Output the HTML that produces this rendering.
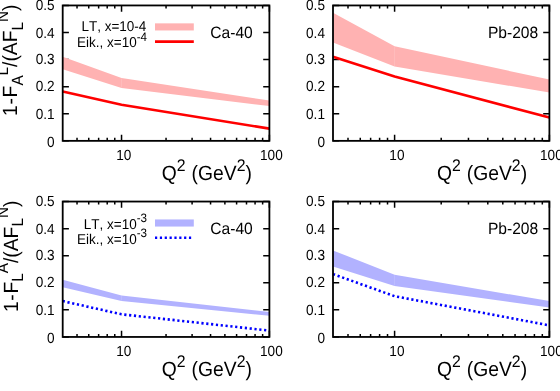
<!DOCTYPE html><html><head><meta charset="utf-8"><style>html,body{margin:0;padding:0;background:#fff;overflow:hidden}svg{display:block;will-change:transform}text{font-family:"Liberation Sans",sans-serif;fill:#000;text-rendering:geometricPrecision;font-kerning:none;white-space:pre;mix-blend-mode:multiply}</style></head><body>
<svg width="560" height="391" viewBox="0 0 560 391">
<rect width="560" height="391" fill="#fff"/>
<path d="M62.70 140.85h6.2M269.40 140.85h-6.2M62.70 113.77h6.2M269.40 113.77h-6.2M62.70 86.69h6.2M269.40 86.69h-6.2M62.70 59.61h6.2M269.40 59.61h-6.2M62.70 32.53h6.2M269.40 32.53h-6.2M62.70 5.45h6.2M269.40 5.45h-6.2M77.03 140.85v-3.0M77.03 5.45v3.0M88.74 140.85v-3.0M88.74 5.45v3.0M98.64 140.85v-3.0M98.64 5.45v3.0M107.21 140.85v-3.0M107.21 5.45v3.0M114.77 140.85v-3.0M114.77 5.45v3.0M121.54 140.85v-6.2M121.54 5.45v6.2M166.05 140.85v-3.0M166.05 5.45v3.0M192.09 140.85v-3.0M192.09 5.45v3.0M210.56 140.85v-3.0M210.56 5.45v3.0M224.89 140.85v-3.0M224.89 5.45v3.0M236.60 140.85v-3.0M236.60 5.45v3.0M246.50 140.85v-3.0M246.50 5.45v3.0M255.07 140.85v-3.0M255.07 5.45v3.0M262.63 140.85v-3.0M262.63 5.45v3.0M269.40 140.85v-6.2M269.40 5.45v6.2" stroke="#000" stroke-width="1.5" fill="none"/>
<path d="M62.70 336.95h6.2M269.40 336.95h-6.2M62.70 309.87h6.2M269.40 309.87h-6.2M62.70 282.79h6.2M269.40 282.79h-6.2M62.70 255.71h6.2M269.40 255.71h-6.2M62.70 228.63h6.2M269.40 228.63h-6.2M62.70 201.55h6.2M269.40 201.55h-6.2M77.03 336.95v-3.0M77.03 201.55v3.0M88.74 336.95v-3.0M88.74 201.55v3.0M98.64 336.95v-3.0M98.64 201.55v3.0M107.21 336.95v-3.0M107.21 201.55v3.0M114.77 336.95v-3.0M114.77 201.55v3.0M121.54 336.95v-6.2M121.54 201.55v6.2M166.05 336.95v-3.0M166.05 201.55v3.0M192.09 336.95v-3.0M192.09 201.55v3.0M210.56 336.95v-3.0M210.56 201.55v3.0M224.89 336.95v-3.0M224.89 201.55v3.0M236.60 336.95v-3.0M236.60 201.55v3.0M246.50 336.95v-3.0M246.50 201.55v3.0M255.07 336.95v-3.0M255.07 201.55v3.0M262.63 336.95v-3.0M262.63 201.55v3.0M269.40 336.95v-6.2M269.40 201.55v6.2" stroke="#000" stroke-width="1.5" fill="none"/>
<path d="M333.00 140.85h6.2M549.40 140.85h-6.2M333.00 113.77h6.2M549.40 113.77h-6.2M333.00 86.69h6.2M549.40 86.69h-6.2M333.00 59.61h6.2M549.40 59.61h-6.2M333.00 32.53h6.2M549.40 32.53h-6.2M333.00 5.45h6.2M549.40 5.45h-6.2M348.00 140.85v-3.0M348.00 5.45v3.0M360.26 140.85v-3.0M360.26 5.45v3.0M370.62 140.85v-3.0M370.62 5.45v3.0M379.60 140.85v-3.0M379.60 5.45v3.0M387.52 140.85v-3.0M387.52 5.45v3.0M394.60 140.85v-6.2M394.60 5.45v6.2M441.20 140.85v-3.0M441.20 5.45v3.0M468.46 140.85v-3.0M468.46 5.45v3.0M487.80 140.85v-3.0M487.80 5.45v3.0M502.80 140.85v-3.0M502.80 5.45v3.0M515.06 140.85v-3.0M515.06 5.45v3.0M525.42 140.85v-3.0M525.42 5.45v3.0M534.40 140.85v-3.0M534.40 5.45v3.0M542.32 140.85v-3.0M542.32 5.45v3.0M549.40 140.85v-6.2M549.40 5.45v6.2" stroke="#000" stroke-width="1.5" fill="none"/>
<path d="M333.00 336.95h6.2M549.40 336.95h-6.2M333.00 309.87h6.2M549.40 309.87h-6.2M333.00 282.79h6.2M549.40 282.79h-6.2M333.00 255.71h6.2M549.40 255.71h-6.2M333.00 228.63h6.2M549.40 228.63h-6.2M333.00 201.55h6.2M549.40 201.55h-6.2M348.00 336.95v-3.0M348.00 201.55v3.0M360.26 336.95v-3.0M360.26 201.55v3.0M370.62 336.95v-3.0M370.62 201.55v3.0M379.60 336.95v-3.0M379.60 201.55v3.0M387.52 336.95v-3.0M387.52 201.55v3.0M394.60 336.95v-6.2M394.60 201.55v6.2M441.20 336.95v-3.0M441.20 201.55v3.0M468.46 336.95v-3.0M468.46 201.55v3.0M487.80 336.95v-3.0M487.80 201.55v3.0M502.80 336.95v-3.0M502.80 201.55v3.0M515.06 336.95v-3.0M515.06 201.55v3.0M525.42 336.95v-3.0M525.42 201.55v3.0M534.40 336.95v-3.0M534.40 201.55v3.0M542.32 336.95v-3.0M542.32 201.55v3.0M549.40 336.95v-6.2M549.40 201.55v6.2" stroke="#000" stroke-width="1.5" fill="none"/>
<polygon points="62.70,56.80 121.54,78.10 269.40,100.60 269.40,106.10 121.54,87.90 62.70,69.30" fill="#ffb2b2"/>
<line x1="121.54" x2="121.54" y1="78.60" y2="87.40" stroke="#fff" stroke-opacity="0.15" stroke-width="1"/>
<polyline points="62.70,91.60 121.54,104.80 269.40,128.60" fill="none" stroke="#ff0000" stroke-width="2.6"/>
<polygon points="333.00,12.80 394.60,46.20 549.40,79.60 549.40,92.50 394.60,66.60 333.00,42.50" fill="#ffb2b2"/>
<line x1="394.60" x2="394.60" y1="46.70" y2="66.10" stroke="#fff" stroke-opacity="0.15" stroke-width="1"/>
<polyline points="333.00,56.85 394.60,76.40 549.40,117.60" fill="none" stroke="#ff0000" stroke-width="2.6"/>
<polygon points="62.70,279.80 121.54,295.60 269.40,312.00 269.40,315.80 121.54,301.10 62.70,287.20" fill="#b2b2ff"/>
<line x1="121.54" x2="121.54" y1="296.10" y2="300.60" stroke="#fff" stroke-opacity="0.15" stroke-width="1"/>
<polyline points="62.70,301.10 121.54,314.30 269.40,330.60" fill="none" stroke="#0000ff" stroke-width="2.6" stroke-dasharray="2.2 2.65"/>
<polygon points="333.00,250.40 394.60,274.80 549.40,301.10 549.40,307.50 394.60,286.10 333.00,266.50" fill="#b2b2ff"/>
<line x1="394.60" x2="394.60" y1="275.30" y2="285.60" stroke="#fff" stroke-opacity="0.15" stroke-width="1"/>
<polyline points="333.00,274.10 394.60,296.20 549.40,325.40" fill="none" stroke="#0000ff" stroke-width="2.6" stroke-dasharray="2.2 2.65"/>
<text transform="translate(81.39,30.65) scale(1,1.05)" x="0.00" y="0" font-size="13.50">LT, x=10-4</text>
<text transform="translate(77.02,47.45) scale(1,1.05)" x="0.00" y="0" font-size="13.50">Eik., x=10</text>
<text transform="translate(136.68,40.70) scale(1,1.05)" x="0.00" y="0" font-size="11.61">-4</text>
<rect x="155" y="23.35" width="38.8" height="7.1" fill="#ffb2b2"/>
<line x1="155" x2="193.8" y1="41.65" y2="41.65" stroke="#ff0000" stroke-width="2.6"/>
<text transform="translate(210.30,37.55) scale(1,1.05)" x="0.00" y="0" font-size="15.60">Ca-40</text>
<text transform="translate(487.90,37.55) scale(1,1.05)" x="0.00" y="0" font-size="15.60">Pb-208</text>
<text transform="translate(83.77,228.95) scale(1,1.05)" x="0.00" y="0" font-size="13.50">LT, x=10</text>
<text transform="translate(136.68,222.20) scale(1,1.05)" x="0.00" y="0" font-size="11.61">-3</text>
<text transform="translate(77.02,243.55) scale(1,1.05)" x="0.00" y="0" font-size="13.50">Eik., x=10</text>
<text transform="translate(136.68,236.80) scale(1,1.05)" x="0.00" y="0" font-size="11.61">-3</text>
<rect x="155" y="219.45" width="38.8" height="7.1" fill="#b2b2ff"/>
<line x1="155" x2="193.8" y1="237.75" y2="237.75" stroke="#0000ff" stroke-width="2.6" stroke-dasharray="2.2 2.65"/>
<text transform="translate(210.30,233.65) scale(1,1.05)" x="0.00" y="0" font-size="15.60">Ca-40</text>
<text transform="translate(487.90,233.65) scale(1,1.05)" x="0.00" y="0" font-size="15.60">Pb-208</text>
<rect x="62.7" y="5.45" width="206.70" height="135.40" fill="none" stroke="#000" stroke-width="1.8"/>
<text transform="translate(54.65,146.90) scale(1,1.08)" x="-7.56" y="0" font-size="13.60">0</text>
<text transform="translate(54.65,118.50) scale(1,1.08)" x="-18.91" y="0" font-size="13.60">0.1</text>
<text transform="translate(54.65,91.30) scale(1,1.08)" x="-18.91" y="0" font-size="13.60">0.2</text>
<text transform="translate(54.65,64.35) scale(1,1.08)" x="-18.91" y="0" font-size="13.60">0.3</text>
<text transform="translate(54.65,37.69) scale(1,1.08)" x="-18.91" y="0" font-size="13.60">0.4</text>
<text transform="translate(54.65,9.68) scale(1,1.08)" x="-18.91" y="0" font-size="13.60">0.5</text>
<text transform="translate(123.84,159.50) scale(1,1.08)" x="-7.56" y="0" font-size="13.60">10</text>
<text transform="translate(271.40,159.50) scale(1,1.08)" x="-11.35" y="0" font-size="13.60">100</text>
<rect x="62.7" y="201.55" width="206.70" height="135.40" fill="none" stroke="#000" stroke-width="1.8"/>
<text transform="translate(54.65,343.00) scale(1,1.08)" x="-7.56" y="0" font-size="13.60">0</text>
<text transform="translate(54.65,314.60) scale(1,1.08)" x="-18.91" y="0" font-size="13.60">0.1</text>
<text transform="translate(54.65,287.40) scale(1,1.08)" x="-18.91" y="0" font-size="13.60">0.2</text>
<text transform="translate(54.65,260.45) scale(1,1.08)" x="-18.91" y="0" font-size="13.60">0.3</text>
<text transform="translate(54.65,233.79) scale(1,1.08)" x="-18.91" y="0" font-size="13.60">0.4</text>
<text transform="translate(54.65,205.78) scale(1,1.08)" x="-18.91" y="0" font-size="13.60">0.5</text>
<text transform="translate(123.84,355.60) scale(1,1.08)" x="-7.56" y="0" font-size="13.60">10</text>
<text transform="translate(271.40,355.60) scale(1,1.08)" x="-11.35" y="0" font-size="13.60">100</text>
<rect x="333.0" y="5.45" width="216.40" height="135.40" fill="none" stroke="#000" stroke-width="1.8"/>
<text transform="translate(324.95,146.90) scale(1,1.08)" x="-7.56" y="0" font-size="13.60">0</text>
<text transform="translate(324.95,118.50) scale(1,1.08)" x="-18.91" y="0" font-size="13.60">0.1</text>
<text transform="translate(324.95,91.30) scale(1,1.08)" x="-18.91" y="0" font-size="13.60">0.2</text>
<text transform="translate(324.95,64.35) scale(1,1.08)" x="-18.91" y="0" font-size="13.60">0.3</text>
<text transform="translate(324.95,37.69) scale(1,1.08)" x="-18.91" y="0" font-size="13.60">0.4</text>
<text transform="translate(324.95,9.68) scale(1,1.08)" x="-18.91" y="0" font-size="13.60">0.5</text>
<text transform="translate(396.90,159.50) scale(1,1.08)" x="-7.56" y="0" font-size="13.60">10</text>
<text transform="translate(551.40,159.50) scale(1,1.08)" x="-11.35" y="0" font-size="13.60">100</text>
<rect x="333.0" y="201.55" width="216.40" height="135.40" fill="none" stroke="#000" stroke-width="1.8"/>
<text transform="translate(324.95,343.00) scale(1,1.08)" x="-7.56" y="0" font-size="13.60">0</text>
<text transform="translate(324.95,314.60) scale(1,1.08)" x="-18.91" y="0" font-size="13.60">0.1</text>
<text transform="translate(324.95,287.40) scale(1,1.08)" x="-18.91" y="0" font-size="13.60">0.2</text>
<text transform="translate(324.95,260.45) scale(1,1.08)" x="-18.91" y="0" font-size="13.60">0.3</text>
<text transform="translate(324.95,233.79) scale(1,1.08)" x="-18.91" y="0" font-size="13.60">0.4</text>
<text transform="translate(324.95,205.78) scale(1,1.08)" x="-18.91" y="0" font-size="13.60">0.5</text>
<text transform="translate(396.90,355.60) scale(1,1.08)" x="-7.56" y="0" font-size="13.60">10</text>
<text transform="translate(551.40,355.60) scale(1,1.08)" x="-11.35" y="0" font-size="13.60">100</text>
<text transform="translate(161.70,180.15) scale(1,1.065)" x="0.00" y="0" font-size="19.30">Q</text>
<text transform="translate(176.71,170.94) scale(1,1.065)" x="0.00" y="0" font-size="15.83">2</text>
<text transform="translate(186.26,180.15) scale(1,1.065)" x="0.00" y="0" font-size="19.30"> (GeV</text>
<text transform="translate(236.67,170.94) scale(1,1.065)" x="0.00" y="0" font-size="15.83">2</text>
<text transform="translate(245.47,180.15) scale(1,1.065)" x="0.00" y="0" font-size="19.30">)</text>
<text transform="translate(436.90,180.15) scale(1,1.065)" x="0.00" y="0" font-size="19.30">Q</text>
<text transform="translate(451.91,170.94) scale(1,1.065)" x="0.00" y="0" font-size="15.83">2</text>
<text transform="translate(461.46,180.15) scale(1,1.065)" x="0.00" y="0" font-size="19.30"> (GeV</text>
<text transform="translate(511.87,170.94) scale(1,1.065)" x="0.00" y="0" font-size="15.83">2</text>
<text transform="translate(520.67,180.15) scale(1,1.065)" x="0.00" y="0" font-size="19.30">)</text>
<text transform="translate(161.70,376.25) scale(1,1.065)" x="0.00" y="0" font-size="19.30">Q</text>
<text transform="translate(176.71,367.04) scale(1,1.065)" x="0.00" y="0" font-size="15.83">2</text>
<text transform="translate(186.26,376.25) scale(1,1.065)" x="0.00" y="0" font-size="19.30"> (GeV</text>
<text transform="translate(236.67,367.04) scale(1,1.065)" x="0.00" y="0" font-size="15.83">2</text>
<text transform="translate(245.47,376.25) scale(1,1.065)" x="0.00" y="0" font-size="19.30">)</text>
<text transform="translate(436.90,376.25) scale(1,1.065)" x="0.00" y="0" font-size="19.30">Q</text>
<text transform="translate(451.91,367.04) scale(1,1.065)" x="0.00" y="0" font-size="15.83">2</text>
<text transform="translate(461.46,376.25) scale(1,1.065)" x="0.00" y="0" font-size="19.30"> (GeV</text>
<text transform="translate(511.87,367.04) scale(1,1.065)" x="0.00" y="0" font-size="15.83">2</text>
<text transform="translate(520.67,376.25) scale(1,1.065)" x="0.00" y="0" font-size="19.30">)</text>
<text transform="translate(17.40,115.95) rotate(-90) scale(1,1.065)" x="0.00" y="0" font-size="19.30">1</text>
<text transform="translate(17.40,104.57) rotate(-90) scale(1,1.065)" x="0.00" y="0" font-size="19.30">-</text>
<text transform="translate(17.40,97.39) rotate(-90) scale(1,1.065)" x="0.00" y="0" font-size="19.30">F</text>
<text transform="translate(23.00,85.60) rotate(-90) scale(1,1.065)" x="0.00" y="0" font-size="15.25">A</text>
<text transform="translate(7.75,75.43) rotate(-90) scale(1,1.065)" x="0.00" y="0" font-size="15.25">L</text>
<text transform="translate(17.40,66.95) rotate(-90) scale(1,1.065)" x="0.00" y="0" font-size="19.30">/(AF</text>
<text transform="translate(23.00,30.50) rotate(-90) scale(1,1.065)" x="0.00" y="0" font-size="15.25">L</text>
<text transform="translate(7.75,22.02) rotate(-90) scale(1,1.065)" x="0.00" y="0" font-size="15.25">N</text>
<text transform="translate(17.40,11.01) rotate(-90) scale(1,1.065)" x="0.00" y="0" font-size="19.30">)</text>
<text transform="translate(17.70,312.05) rotate(-90) scale(1,1.065)" x="0.00" y="0" font-size="19.30">1</text>
<text transform="translate(17.70,300.67) rotate(-90) scale(1,1.065)" x="0.00" y="0" font-size="19.30">-</text>
<text transform="translate(17.70,293.49) rotate(-90) scale(1,1.065)" x="0.00" y="0" font-size="19.30">F</text>
<text transform="translate(23.30,281.70) rotate(-90) scale(1,1.065)" x="0.00" y="0" font-size="15.25">L</text>
<text transform="translate(8.05,273.22) rotate(-90) scale(1,1.065)" x="0.00" y="0" font-size="15.25">A</text>
<text transform="translate(17.70,263.05) rotate(-90) scale(1,1.065)" x="0.00" y="0" font-size="19.30">/(AF</text>
<text transform="translate(23.30,226.60) rotate(-90) scale(1,1.065)" x="0.00" y="0" font-size="15.25">L</text>
<text transform="translate(8.05,218.12) rotate(-90) scale(1,1.065)" x="0.00" y="0" font-size="15.25">N</text>
<text transform="translate(17.70,207.11) rotate(-90) scale(1,1.065)" x="0.00" y="0" font-size="19.30">)</text>
</svg></body></html>
